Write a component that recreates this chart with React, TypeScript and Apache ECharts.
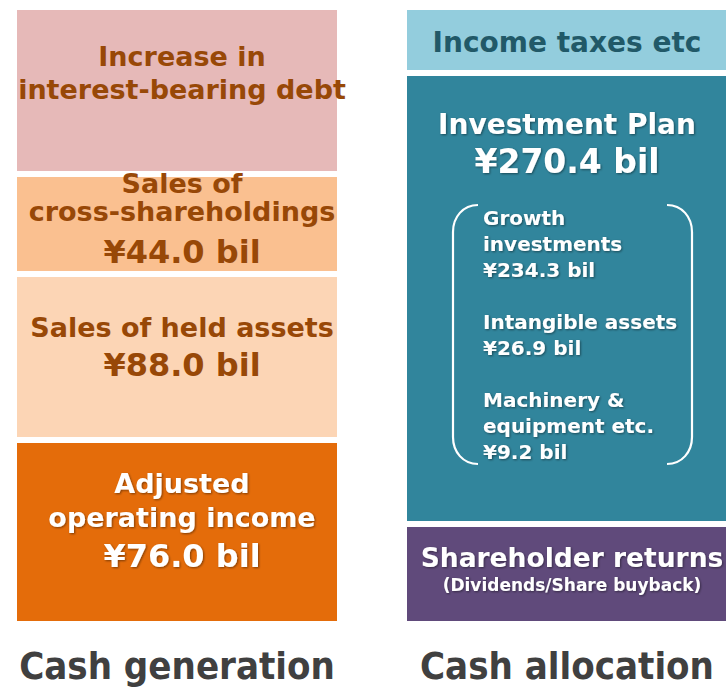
import React, { useEffect, useRef } from "react";
import * as echarts from "echarts";

// ---- Data ----
const categories = ["Cash generation", "Cash allocation"];

// Cash generation blocks, bottom → top
const generationItems = [
  "Adjusted\noperating income",
  "Sales of held assets",
  "Sales of\ncross-shareholdings",
  "Increase in\ninterest-bearing debt",
];
const generationAmounts: (number | null)[] = [76.0, 88.0, 44.0, null];
// schematic block heights (the diagram is not drawn to scale)
const generationBlockHeights = [184, 166, 100, 167];

// Cash allocation blocks, bottom → top
const allocationItems = ["Shareholder returns", "Investment Plan", "Income taxes etc"];
const allocationAmounts: (number | null)[] = [null, 270.4, null];
const allocationBlockHeights = [100, 451, 66];
const shareholderNote = "(Dividends/Share buyback)";

// Investment plan breakdown
const investmentBreakdown = ["Growth\ninvestments", "Intangible assets", "Machinery &\nequipment etc."];
const investmentBreakdownAmounts = [234.3, 26.9, 9.2];

// ---- Styles ----
const FONT = '"DejaVu Sans", Verdana, sans-serif';
const BROWN = "#984807";
const WHITE = "#ffffff";
const generationColors = ["#e46c0a", "#fcd5b5", "#fac090", "#e6b9b8"];
const allocationColors = ["#604a7b", "#31859c", "#93cddd"];

const shadow = {
  textShadowColor: "rgba(0,0,0,0.45)",
  textShadowBlur: 2,
  textShadowOffsetX: 1,
  textShadowOffsetY: 1,
};

const yen = (v: number) => `¥${v.toFixed(1)} bil`;

const genLabelCfg = [
  { offset: -10.5, color: WHITE, tSize: 27, tLh: 34, vSize: 32, vLh: 43, shadow: true },
  { offset: -7.5, color: BROWN, tSize: 27, tLh: 30, vSize: 32, vLh: 45, shadow: false },
  { offset: 0, color: BROWN, tSize: 27, tLh: 28, vSize: 32, vLh: 54, shadow: false },
  { offset: -17.5, color: BROWN, tSize: 27, tLh: 33, vSize: 32, vLh: 40, shadow: false },
];

function makeLabel(name: string, amount: number | null, cfg: any) {
  const lines = name.split("\n").map((l) => `{t|${l}}`);
  if (amount !== null) lines.push(`{v|${yen(amount)}}`);
  const extra = cfg.shadow ? shadow : {};
  return {
    show: true,
    position: "inside",
    offset: [5, cfg.offset],
    formatter: lines.join("\n"),
    rich: {
      t: { fontFamily: FONT, fontWeight: "bold", fontSize: cfg.tSize, lineHeight: cfg.tLh, color: cfg.color, align: "center", ...extra },
      v: { fontFamily: FONT, fontWeight: "bold", fontSize: cfg.vSize, lineHeight: cfg.vLh, color: cfg.color, align: "center", ...extra },
    },
  };
}

// Bracket shapes around the breakdown
echarts.graphic.registerShape(
  "bracketLeft",
  echarts.graphic.extendPath("M478,205 C463,205 453,217 453,232 L453,437 C453,452 463,464 478,464", {}) as any
);
echarts.graphic.registerShape(
  "bracketRight",
  echarts.graphic.extendPath("M667,205 C682,205 692,217 692,232 L692,437 C692,452 682,464 667,464", {}) as any
);

export default function App() {
  const ref = useRef<HTMLDivElement>(null);

  useEffect(() => {
    document.body.style.margin = "0";
    if (!ref.current) return;
    const chart = echarts.init(ref.current, undefined, { renderer: "svg" });

    const series: any[] = [];
    generationBlockHeights.forEach((h, i) => {
      series.push({
        type: "bar",
        name: generationItems[i].replace("\n", " "),
        stack: "blocks",
        barWidth: 326,
        clip: false,
        silent: true,
        data: [h, "-"],
        itemStyle: { color: generationColors[i], borderColor: "#ffffff", borderWidth: 3 },
        label: makeLabel(generationItems[i], generationAmounts[i], genLabelCfg[i]),
      });
    });

    allocationBlockHeights.forEach((h, i) => {
      let label: any;
      if (i === 0) {
        label = {
          show: true,
          position: "inside",
          offset: [5, -4.5],
          formatter: `{t|${allocationItems[0]}}\n{s|${shareholderNote}}`,
          rich: {
            t: { fontFamily: FONT, fontWeight: "bold", fontSize: 26.5, lineHeight: 30, color: WHITE, ...shadow },
            s: { fontFamily: FONT, fontWeight: "bold", fontSize: 17, lineHeight: 25, color: WHITE, ...shadow },
          },
        };
      } else if (i === 1) {
        label = {
          show: true,
          position: "inside",
          offset: [0, -155],
          formatter: `{t|${allocationItems[1]}}\n{v|${yen(allocationAmounts[1] as number)}}`,
          rich: {
            t: { fontFamily: FONT, fontWeight: "bold", fontSize: 28, lineHeight: 36, color: WHITE, ...shadow },
            v: { fontFamily: FONT, fontWeight: "bold", fontSize: 33, lineHeight: 39, color: WHITE, ...shadow },
          },
        };
      } else {
        label = {
          show: true,
          position: "inside",
          offset: [0, 2.5],
          formatter: `{t|${allocationItems[2]}}`,
          rich: {
            t: { fontFamily: FONT, fontWeight: "bold", fontSize: 28, lineHeight: 34, color: "#215968" },
          },
        };
      }
      series.push({
        type: "bar",
        name: allocationItems[i],
        stack: "blocks",
        barWidth: 326,
        clip: false,
        silent: true,
        data: ["-", h],
        itemStyle: { color: allocationColors[i], borderColor: "#ffffff", borderWidth: 3 },
        label,
      });
    });

    const breakdownText = investmentBreakdown
      .map((n, i) => `${n}\n${yen(investmentBreakdownAmounts[i])}`)
      .join("\n\n");

    const total = generationBlockHeights.reduce((a, b) => a + b, 0);

    chart.setOption({
      animation: false,
      grid: { left: 177, right: 159, top: 7, bottom: 64 },
      xAxis: {
        type: "category",
        data: categories,
        boundaryGap: false,
        axisLine: { show: false },
        axisTick: { show: false },
        splitLine: { show: false },
        axisLabel: {
          interval: 0,
          margin: 22,
          fontFamily: '"DejaVu Sans Condensed", "DejaVu Sans", sans-serif',
          fontWeight: "bold",
          fontSize: 38,
          lineHeight: 40,
          color: "#404040",
        },
      },
      yAxis: { type: "value", min: 0, max: total, show: false, splitLine: { show: false } },
      series,
      graphic: [
        { type: "bracketLeft", x: 0, y: 0, z: 100, silent: true, style: { stroke: "#ffffff", lineWidth: 2.2, fill: "none" } },
        { type: "bracketRight", x: 0, y: 0, z: 100, silent: true, style: { stroke: "#ffffff", lineWidth: 2.2, fill: "none" } },
        {
          type: "text",
          x: 483,
          y: 204.5,
          z: 100,
          silent: true,
          style: {
            text: breakdownText,
            fontFamily: FONT,
            fontWeight: "bold",
            fontSize: 20,
            lineHeight: 26,
            fill: WHITE,
            verticalAlign: "top",
            textShadowColor: "rgba(0,0,0,0.45)",
            textShadowBlur: 2,
            textShadowOffsetX: 1,
            textShadowOffsetY: 1,
          },
        },
      ],
    });

    return () => chart.dispose();
  }, []);

  return <div ref={ref} style={{ width: 726, height: 688 }} />;
}
